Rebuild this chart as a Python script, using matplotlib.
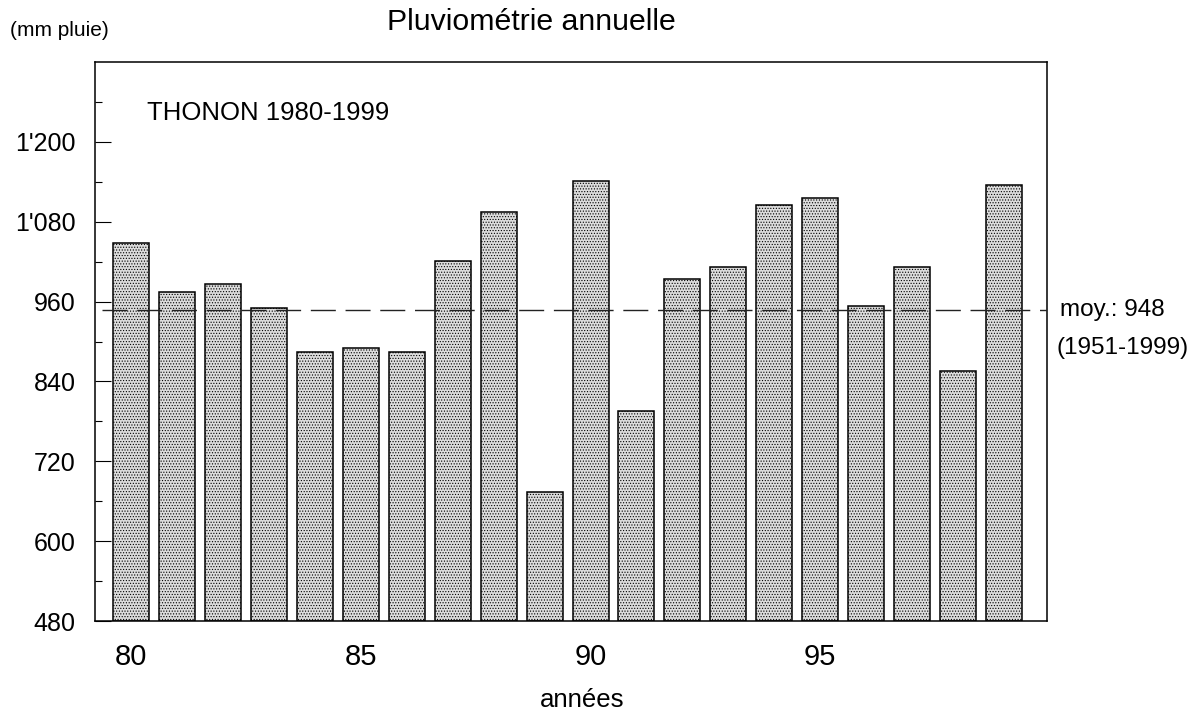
import matplotlib
matplotlib.use("Agg")
import matplotlib.pyplot as plt
from matplotlib.ticker import FuncFormatter, FixedLocator

plt.rcParams["font.family"] = ["Liberation Sans", "DejaVu Sans"]
plt.rcParams["hatch.color"] = "#4a4a4a"
plt.rcParams["hatch.linewidth"] = 0.5

# ---------- données ----------
annees = list(range(1980, 2000))
pluie_mm = [1048, 974, 986, 950, 884, 890, 885, 1021, 1094, 674,
            1141, 795, 994, 1012, 1105, 1116, 954, 1012, 855, 1135]
moyenne = 948
yticks = [480, 600, 720, 840, 960, 1080, 1200]
yticks_min = [540, 660, 780, 900, 1020, 1140, 1260]
xticks = [1980, 1985, 1990, 1995]
xtick_labels = ["80", "85", "90", "95"]

fig = plt.figure(figsize=(11.94, 7.13), dpi=100)
ax = fig.add_axes([0.0796, 0.129, 0.7973, 0.784])

ax.bar(annees, [p - 480 for p in pluie_mm], bottom=480, width=0.784,
       facecolor="#dcdcdc", edgecolor="black", linewidth=1.1,
       hatch="......", zorder=2)
ax.plot([1979.36, 1999.94], [moyenne, moyenne], color="#222222", lw=1.0,
        ls=(0, (18, 7)), zorder=3)

ax.set_xlim(1979.21, 1999.94)
ax.set_ylim(480, 1320)

ax.yaxis.set_major_locator(FixedLocator(yticks))
ax.yaxis.set_minor_locator(FixedLocator(yticks_min))
ax.yaxis.set_major_formatter(FuncFormatter(
    lambda v, p: f"{int(v):,}".replace(",", "'")))
ax.tick_params(axis="y", which="major", direction="in", length=11.5,
               width=0.8, labelsize=18, pad=14)
ax.tick_params(axis="y", which="minor", direction="in", length=5, width=0.8)
ax.set_xticks(xticks)
ax.set_xticklabels(xtick_labels)
ax.tick_params(axis="x", length=0, labelsize=21, pad=16)
for s in ax.spines.values():
    s.set_linewidth(1.1)

fig.text(10 / 1194, 1 - 30 / 713, "(mm pluie)", fontsize=15, va="center", ha="left")
fig.text(531 / 1194, 1 - 22 / 713, "Pluviométrie annuelle", fontsize=21.8,
         va="center", ha="center")
fig.text(147 / 1194, 1 - 120 / 713, "THONON 1980-1999", fontsize=18.5,
         va="baseline", ha="left")
fig.text(1060 / 1194, 1 - 310 / 713, "moy.: 948", fontsize=17.5, va="center", ha="left")
fig.text(1057 / 1194, 1 - 348 / 713, "(1951-1999)", fontsize=17.5, va="center", ha="left")
fig.text(582 / 1194, 1 - 700 / 713, "années", fontsize=18.5, va="center", ha="center")

fig.savefig("out.png", dpi=100)
